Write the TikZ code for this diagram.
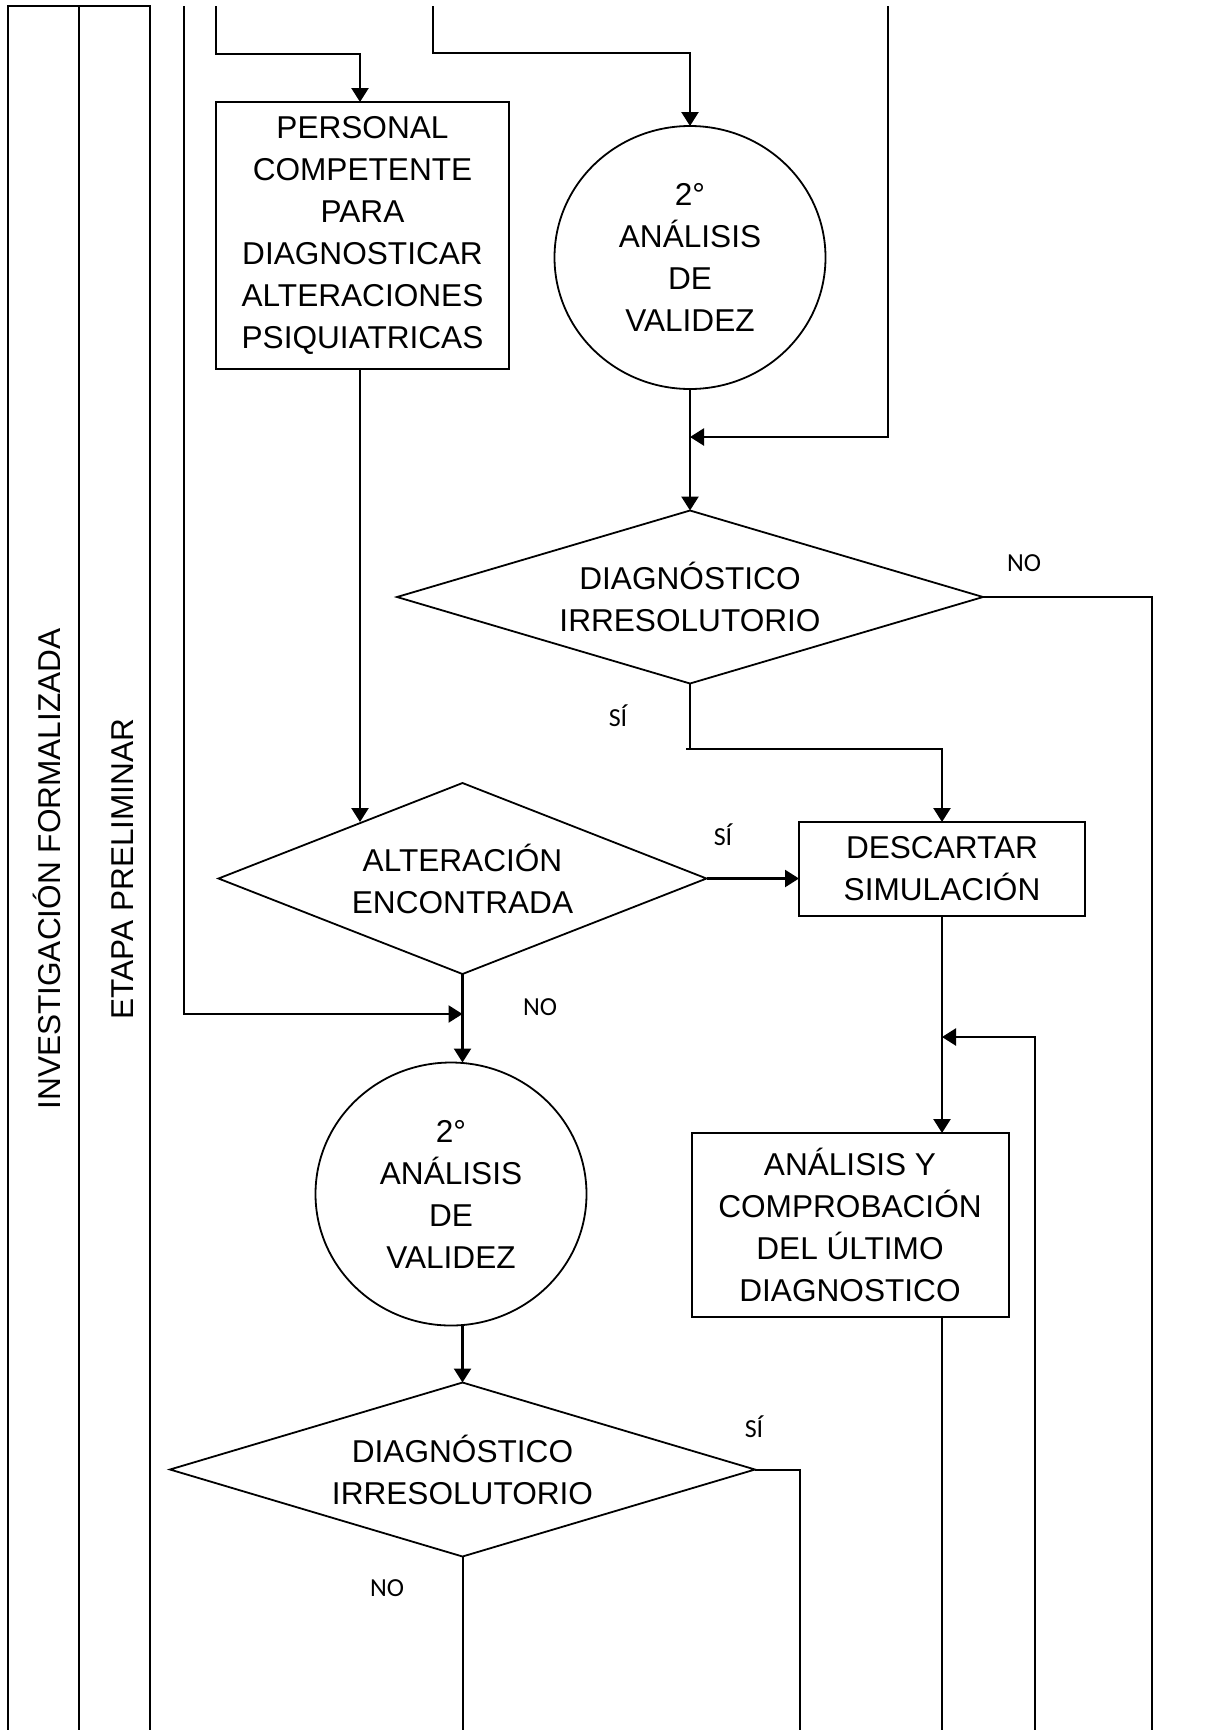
\documentclass[tikz,border=0pt]{standalone}
\usepackage{fontspec}
\setmainfont{Liberation Sans}
\newfontfamily\lblfont{Carlito}
\usetikzlibrary{arrows.meta,shapes.geometric}
\begin{document}
\begin{tikzpicture}[x=0.5pt,y=-0.5pt,
  every node/.style={inner sep=0pt, outer sep=0pt},
  ln/.style={line width=1.2pt},
  lane/.style={line width=1pt},
  arr/.style={ln, -{Triangle[length=7pt,width=8.5pt]}},
  txt/.style={font=\fontsize{15.8}{21}\selectfont, align=center},
  lanelbl/.style={font=\fontsize{15.8}{21}\selectfont, rotate=90, anchor=base},
  procbox/.style={txt, draw, line width=1pt, rectangle},
  valcirc/.style={txt, draw, line width=0.9pt, ellipse, minimum width=135.5pt, minimum height=131.5pt},
  decision/.style={txt, draw, line width=0.9pt, diamond, aspect=3.4},
  yn/.style={font=\lblfont\fontsize{13}{15}\selectfont, anchor=base}
]
\fill[white] (0,0) rectangle (1206,1730);
\useasboundingbox (0,0) rectangle (1206,1730);

% swimlanes
\draw[lane] (8,1730) -- (8,6) -- (150,6) -- (150,1730);
\draw[lane] (79,6) -- (79,1730);
\node[lanelbl] (lane1) at (60,869) {INVESTIGACIÓN FORMALIZADA};
\node[lanelbl] (lane2) at (133,869) {ETAPA PRELIMINAR};

% nodes
\node[procbox, minimum width=146.5pt, minimum height=133.5pt] (personal) at (362.5,235.5)
  {PERSONAL\\COMPETENTE\\PARA\\DIAGNOSTICAR\\ALTERACIONES\\PSIQUIATRICAS};
\node[valcirc] (val1) at (690,257.5) {2°\\ANÁLISIS\\DE\\VALIDEZ};
\node[decision, minimum width=293pt, minimum height=86.5pt] (dec1) at (690,597)
  {DIAGNÓSTICO\\IRRESOLUTORIO};
\node[decision, aspect=2.55, minimum width=244pt, minimum height=95.5pt] (alt) at (462.5,878.5)
  {ALTERACIÓN\\ENCONTRADA};
\node[procbox, minimum width=143pt, minimum height=47pt] (desc) at (942,869)
  {DESCARTAR\\SIMULACIÓN};
\node[valcirc] (val2) at (451,1194) {2°\\ANÁLISIS\\DE\\VALIDEZ};
\node[decision, minimum width=292.5pt, minimum height=87pt] (dec2) at (462.5,1469.5)
  {DIAGNÓSTICO\\IRRESOLUTORIO};
\node[procbox, minimum width=158.5pt, minimum height=92pt] (anal) at (850,1225)
  {ANÁLISIS Y\\COMPROBACIÓN\\DEL ÚLTIMO\\DIAGNOSTICO};

% labels
\node[yn] (no1) at (1024,571.7) {NO};
\node[yn] (si1) at (618,726.7) {SÍ};
\node[yn] (si2) at (723,845) {SÍ};
\node[yn] (no2) at (540,1015) {NO};
\node[yn] (si3) at (754,1437.3) {SÍ};
\node[yn] (no3) at (387,1596.7) {NO};

% coordinates
\coordinate (t1) at (216,6);
\coordinate (k1) at (360,54);
\coordinate (t2) at (184,6);
\coordinate (m2) at (462.5,1014);
\coordinate (t3) at (433,6);
\coordinate (k3) at (690,53);
\coordinate (t4) at (888,6);
\coordinate (m4) at (690,437);
\coordinate (b1) at (1152,1730);
\coordinate (k5) at (942,749);
\coordinate (k6) at (360,822);
\coordinate (b2) at (800,1730);
\coordinate (m7) at (942,1037);
\coordinate (b7) at (1035,1730);
\coordinate (b8) at (942,1730);

% connectors
\draw[arr] (t1) |- (k1) -- (k1 |- personal.north);
\draw[arr] (t2) |- (m2);
\draw[arr] (t3) |- (k3) -- (val1.north);
\draw[arr] (t4) |- (m4);
\draw[arr] (val1.south) -- (dec1.north);
\draw[lane] (dec1.east) -| (b1);
\draw[ln] (dec1.south) -- (dec1.south |- k5) -- ([xshift=-2pt]dec1.south |- k5);
\draw[arr] (dec1.south |- k5) -- (k5) -- (desc.north);
\draw[arr] (personal.south -| k6) -- (k6);
\draw[arr] (alt.east) -- (alt.east -| desc.west);
\draw[arr] (alt.south) -- (alt.south |- val2.north);
\draw[arr] (val2.south -| dec2.north) -- (dec2.north);
\draw[lane] (dec2.east) -| (b2);
\draw[lane] (dec2.south) -- (dec2.south |- b2);
\draw[arr] (desc.south) -- (anal.north -| desc.south);
\draw[arr] (b7) |- (m7);
\draw[lane] (anal.south -| desc.south) -- (b8);
\end{tikzpicture}
\end{document}
